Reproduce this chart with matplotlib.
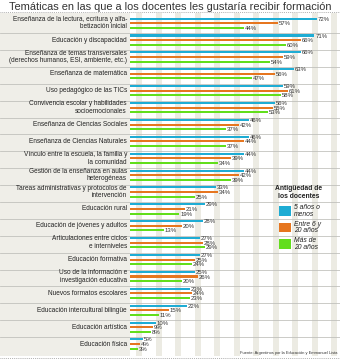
import matplotlib
matplotlib.use("Agg")
import matplotlib.pyplot as plt
from matplotlib.patches import Rectangle
from matplotlib.lines import Line2D
import numpy as np

plt.rcParams['font.family'] = ['Liberation Sans', 'DejaVu Sans']

title = "Temáticas en las que a los docentes les gustaría recibir formación"

categories = [
    "Enseñanza de la lectura, ecritura y alfa-\nbetización inicial",
    "Educación y discapacidad",
    "Enseñanza de temas transversales\n(derechos humanos, ESI, ambiente, etc.)",
    "Enseñanza de matemática",
    "Uso pedagógico de las TICs",
    "Convivencia escolar y habilidades\nsocioemocionales",
    "Enseñanza de Ciencias Sociales",
    "Enseñanza de Ciencias Naturales",
    "Vínculo entre la escuela, la familia y\nla comunidad",
    "Gestión de la enseñanza en aulas\nheterogéneas",
    "Tareas administrativas y protocolos de\nintervención",
    "Educación rural",
    "Educación de jóvenes y adultos",
    "Articulaciones entre ciclos\ne interniveles",
    "Educación formativa",
    "Uso de la información e\ninvestigación educativa",
    "Nuevos formatos escolares",
    "Educación intercultural bilingüe",
    "Educación artística",
    "Educación física",
]

hasta_5 = [72, 71, 66, 63, 59, 56, 46, 46, 44, 44, 33, 29, 28, 27, 27, 25, 23, 22, 10, 5]
entre_6_20 = [57, 66, 59, 56, 61, 55, 42, 44, 39, 42, 34, 21, 20, 28, 25, 26, 24, 15, 9, 4]
mas_20 = [44, 60, 54, 47, 58, 53, 37, 37, 34, 39, 25, 19, 13, 29, 24, 20, 23, 11, 8, 3]

series = [hasta_5, entre_6_20, mas_20]
series_labels = ["5 años o\nmenos", "Entre 6 y\n20 años", "Más de\n20 años"]
colors = ["#1eacd4", "#e6761f", "#62de1c"]
legend_title = "Antigüedad de\nlos docentes"
source = "Fuente: Argentinos por la Educación y Emmanuel Lista"

W, H = 340, 360
fig = plt.figure(figsize=(W / 100, H / 100), dpi=100)
fig.patch.set_facecolor("white")

# axes covers the whole width: the label column lives at negative x
ax_top_px, ax_bot_px = 13, 355.5
ax = fig.add_axes([0, 1 - ax_bot_px / H, 1, (ax_bot_px - ax_top_px) / H])
px_per_pct = 2.597
x_left = -130 / px_per_pct
x_right = 210 / px_per_pct
ax.set_xlim(x_left, x_right)
group_px = 16.9
ax.set_ylim(len(categories) - 0.5 + (ax_bot_px - 354) / group_px,
            -0.5 - (16.3 - ax_top_px) / group_px)
ax.axis("off")

# label column background and vertical stripes behind the bars
ax.axvspan(x_left, 0, color="#efeee8", zorder=0, lw=0)
for n in range(11):
    x0 = (6 + 19.5 * n) / px_per_pct
    ax.axvspan(x0, x0 + 6 / px_per_pct, color="#ecebe3", zorder=0, lw=0)

# group separators
for i in range(1, len(categories)):
    ax.axhline(i - 0.5, color="#bdbdb8", lw=0.55, zorder=1)

y = np.arange(len(categories))
offset = 0.272
shift = -0.09
bar_h = 0.12
for k, (vals, col) in enumerate(zip(series, colors)):
    yy = y + shift + (k - 1) * offset
    ax.barh(yy, vals, height=bar_h, color=col, zorder=3, lw=0)
    for yv, v in zip(yy, vals):
        ax.text(v + 0.3, yv + 0.03, f"{v}%", fontsize=4.3, color="#333333",
                ha="left", va="center", zorder=4)

for yi, lab in zip(y, categories):
    ax.text(-1.2, yi + shift, lab, fontsize=4.7, color="#222222",
            ha="right", va="center", linespacing=1.1, zorder=4)

# title and dotted rules
fig.text(0.5, 1 - 7 / H, title, fontsize=7.9, color="#333333",
         ha="center", va="center")
for ypx in (12.3, 357.5):
    fig.add_artist(Line2D([0, 1], [1 - ypx / H, 1 - ypx / H],
                          transform=fig.transFigure, color="#999999",
                          lw=0.6, ls=(0, (1, 1.3))))

# legend
fig.text(299 / W, 1 - 193 / H, legend_title, fontsize=4.9, fontweight="bold",
         color="#222222", ha="center", va="center", linespacing=1.2)
for k, (lab, col) in enumerate(zip(series_labels, colors)):
    top = 206 + k * 16.7
    fig.add_artist(Rectangle((279 / W, 1 - (top + 9.5) / H), 12 / W, 9.5 / H,
                             transform=fig.transFigure, color=col, lw=0))
    fig.text(294 / W, 1 - (top + 4.8) / H, lab, fontsize=4.9, style="italic",
             color="#222222", ha="left", va="center", linespacing=1.0)

fig.text(337 / W, 1 - 353 / H, source, fontsize=2.9, color="#333333",
         ha="right", va="center")

fig.savefig("out.png", dpi=100, facecolor=fig.get_facecolor())
